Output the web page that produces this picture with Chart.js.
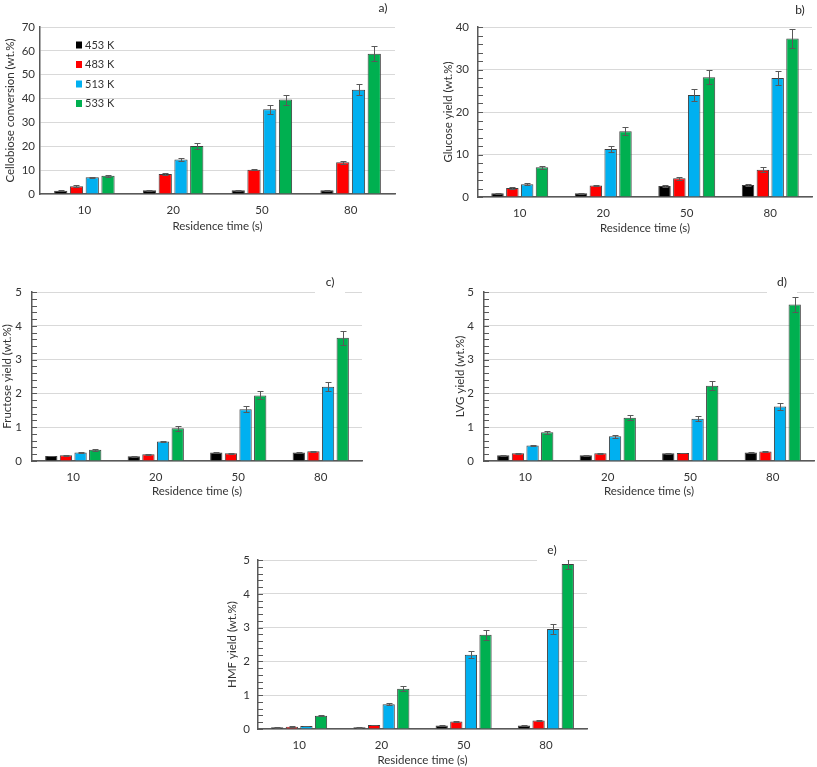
<!DOCTYPE html>
<html>
<head>
<meta charset="utf-8">
<script src="https://cdn.jsdelivr.net/npm/chart.js@4.4.1/dist/chart.umd.min.js"></script>
<style>
  body { margin: 0; background: #fff; width: 817px; height: 767px; position: relative; overflow: hidden; }
  .panel { position: absolute; }
</style>
</head>
<body>
<div class="panel" style="left:0px;top:0px;width:400px;height:235px"><canvas id="ca"></canvas></div>
<div class="panel" style="left:405px;top:0px;width:412px;height:240px"><canvas id="cb"></canvas></div>
<div class="panel" style="left:0px;top:265px;width:400px;height:240px"><canvas id="cc"></canvas></div>
<div class="panel" style="left:405px;top:265px;width:412px;height:240px"><canvas id="cd"></canvas></div>
<div class="panel" style="left:200px;top:533px;width:410px;height:234px"><canvas id="ce"></canvas></div>
<script>
// residence times and temperatures
const residence = ['10', '20', '50', '80'];
const temps = ['453 K', '483 K', '513 K', '533 K'];
const colors = ['#000000', '#ff0000', '#00b0f0', '#00b050'];

// one row per temperature (453, 483, 513, 533 K)
const cellobiose = [
  [1.4, 1.6, 1.6, 1.6],
  [3.3, 8.4, 10.2, 13.3],
  [7.0, 14.5, 35.5, 43.7],
  [7.7, 20.1, 39.6, 58.8]
];
const cellobioseErr = [
  [0.2, 0.2, 0.2, 0.2],
  [0.3, 0.3, 0.3, 0.6],
  [0.3, 0.7, 2.0, 2.3],
  [0.4, 1.1, 2.1, 3.2]
];

const glucose = [
  [0.9, 0.9, 2.6, 2.8],
  [2.1, 2.7, 4.4, 6.4],
  [3.0, 11.3, 24.0, 28.0],
  [7.0, 15.5, 28.2, 37.3]
];
const glucoseErr = [
  [0.1, 0.1, 0.2, 0.2],
  [0.2, 0.2, 0.3, 0.6],
  [0.2, 0.8, 1.4, 1.6],
  [0.4, 0.9, 1.7, 2.2]
];

const fructose = [
  [0.15, 0.14, 0.25, 0.25],
  [0.17, 0.20, 0.23, 0.29],
  [0.25, 0.58, 1.53, 2.20],
  [0.33, 0.97, 1.94, 3.65]
];
const fructoseErr = [
  [0.01, 0.01, 0.02, 0.02],
  [0.01, 0.01, 0.02, 0.02],
  [0.02, 0.02, 0.09, 0.13],
  [0.02, 0.07, 0.12, 0.21]
];

const lvg = [
  [0.17, 0.17, 0.23, 0.25],
  [0.23, 0.23, 0.24, 0.28],
  [0.46, 0.73, 1.25, 1.61],
  [0.85, 1.28, 2.23, 4.63]
];
const lvgErr = [
  [0.01, 0.01, 0.01, 0.02],
  [0.01, 0.01, 0.01, 0.01],
  [0.02, 0.04, 0.07, 0.11],
  [0.04, 0.07, 0.13, 0.21]
];

const hmf = [
  [0.05, 0.05, 0.10, 0.10],
  [0.07, 0.12, 0.22, 0.25],
  [0.09, 0.73, 2.20, 2.96],
  [0.39, 1.19, 2.79, 4.88]
];
const hmfErr = [
  [0.01, 0.01, 0.01, 0.01],
  [0.01, 0.01, 0.01, 0.02],
  [0.01, 0.03, 0.11, 0.15],
  [0.02, 0.07, 0.15, 0.15]
];

const FONT = 'Lato, "Open Sans", sans-serif';
const AXIS = '#595959';
const TEXT = '#333333';

// error bars drawn on top of each bar
const errorBars = {
  id: 'errorBars',
  afterDatasetsDraw(chart) {
    const ctx = chart.ctx, y = chart.scales.y, area = chart.chartArea;
    ctx.save();
    ctx.beginPath();
    ctx.rect(area.left, area.top, area.right - area.left, area.bottom - area.top);
    ctx.clip();
    ctx.strokeStyle = '#595959';
    ctx.lineWidth = 1;
    chart.data.datasets.forEach((ds, i) => {
      chart.getDatasetMeta(i).data.forEach((bar, j) => {
        const v = ds.data[j], e = ds.errors[j];
        const x = Math.round(bar.x) + 0.5;
        const top = Math.round(y.getPixelForValue(v + e)) + 0.5;
        const bot = Math.round(y.getPixelForValue(v - e)) + 0.5;
        ctx.beginPath();
        ctx.moveTo(x, top); ctx.lineTo(x, bot);
        ctx.moveTo(x - 3, top); ctx.lineTo(x + 3, top);
        ctx.moveTo(x - 3, bot); ctx.lineTo(x + 3, bot);
        ctx.stroke();
      });
    });
    ctx.restore();
  }
};

// small inward tick marks on the y axis, panel tag and in-plot legend
const decorations = {
  id: 'decorations',
  afterDraw(chart, args, opts) {
    const ctx = chart.ctx, y = chart.scales.y, area = chart.chartArea;
    ctx.save();
    if (opts.innerTicks) {
      ctx.strokeStyle = AXIS;
      ctx.lineWidth = 1;
      y.ticks.forEach(t => {
        const py = Math.round(y.getPixelForValue(t.value)) + 0.5;
        ctx.beginPath();
        ctx.moveTo(area.left, py);
        ctx.lineTo(area.left + 5, py);
        ctx.stroke();
      });
    }
    if (opts.tag) {
      if (opts.tagBox) {
        ctx.fillStyle = '#fff';
        ctx.fillRect(opts.tagX - 15, opts.tagY - 9, 30, area.top - opts.tagY + 11);
      }
      ctx.fillStyle = '#262626';
      ctx.font = '12px ' + FONT;
      ctx.textAlign = 'center';
      ctx.textBaseline = 'middle';
      ctx.fillText(opts.tag, opts.tagX, opts.tagY);
    }
    if (opts.legend) {
      ctx.font = '11px ' + FONT;
      ctx.textAlign = 'left';
      ctx.textBaseline = 'middle';
      chart.data.datasets.forEach((ds, i) => {
        const cy = opts.legendY + i * 19.5;
        ctx.fillStyle = ds.backgroundColor;
        ctx.fillRect(opts.legendX, cy - 3.5, 6, 7);
        ctx.fillStyle = TEXT;
        ctx.fillText(ds.label, opts.legendX + 9, cy);
      });
    }
    ctx.restore();
  }
};

const panels = [
  { canvas: 'ca', values: cellobiose, errors: cellobioseErr, max: 70, major: 10, minor: 10,
    yTitle: 'Cellobiose conversion (wt.%)', tag: 'a)', tagX: 383, tagY: 8, tagBox: false,
    pad: { left: 3, right: 5, top: 27, bottom: 2 }, yWidth: 37, xHeight: 39, tickPad: 5,
    legend: true, legendX: 76, legendY: 45, innerTicks: false },
  { canvas: 'cb', values: glucose, errors: glucoseErr, max: 40, major: 10, minor: 2,
    yTitle: 'Glucose yield (wt.%)', tag: 'b)', tagX: 395, tagY: 10, tagBox: false,
    pad: { left: 36, right: 5, top: 27, bottom: 5 }, yWidth: 37, xHeight: 38, tickPad: 9,
    legend: false, innerTicks: true },
  { canvas: 'cc', values: fructose, errors: fructoseErr, max: 5, major: 1, minor: 0.2,
    yTitle: 'Fructose yield (wt.%)', tag: 'c)', tagX: 330, tagY: 17, tagBox: true,
    pad: { left: 0, right: 38, top: 27, bottom: 7 }, yWidth: 32, xHeight: 37, tickPad: 10,
    legend: false, innerTicks: true },
  { canvas: 'cd', values: lvg, errors: lvgErr, max: 5, major: 1, minor: 0.2,
    yTitle: 'LVG yield (wt.%)', tag: 'd)', tagX: 377, tagY: 17, tagBox: true,
    pad: { left: 48, right: 3, top: 27, bottom: 7 }, yWidth: 31, xHeight: 37, tickPad: 10,
    legend: false, innerTicks: true },
  { canvas: 'ce', values: hmf, errors: hmfErr, max: 5, major: 1, minor: 0.2,
    yTitle: 'HMF yield (wt.%)', tag: 'e)', tagX: 352, tagY: 17, tagBox: true,
    pad: { left: 25, right: 23, top: 27, bottom: 0 }, yWidth: 33, xHeight: 38, tickPad: 8,
    legend: false, innerTicks: true }
];

function isMajor(v, major) {
  const r = v / major;
  return Math.abs(r - Math.round(r)) < 1e-6;
}

panels.forEach(p => {
  const datasets = temps.map((t, i) => ({
    label: t,
    data: p.values[i],
    errors: p.errors[i],
    backgroundColor: colors[i],
    borderColor: '#3f3f3f',
    borderWidth: 1,
    categoryPercentage: 0.71,
    barPercentage: 0.84
  }));

  new Chart(document.getElementById(p.canvas), {
    type: 'bar',
    data: { labels: residence, datasets: datasets },
    plugins: [errorBars, decorations],
    options: {
      responsive: true,
      maintainAspectRatio: false,
      animation: false,
      layout: { padding: p.pad },
      plugins: {
        legend: { display: false },
        tooltip: { enabled: false },
        decorations: {
          innerTicks: p.innerTicks, tag: p.tag, tagX: p.tagX, tagY: p.tagY, tagBox: p.tagBox,
          legend: p.legend, legendX: p.legendX, legendY: p.legendY
        }
      },
      scales: {
        x: {
          grid: { display: false },
          border: { display: true, color: AXIS, width: 1.5 },
          ticks: { color: TEXT, font: { family: FONT, size: 11.5 }, padding: 1 },
          title: { display: true, text: 'Residence time (s)', color: TEXT,
                   font: { family: FONT, size: 11.5 }, padding: 0 },
          afterFit: s => { s.height = p.xHeight; }
        },
        y: {
          min: 0,
          max: p.max,
          grid: {
            drawTicks: false,
            color: ctx => isMajor(ctx.tick.value, p.major) ? '#d9d9d9' : 'rgba(0,0,0,0)',
            lineWidth: 1
          },
          border: { display: true, color: AXIS, width: 1.5 },
          ticks: {
            stepSize: p.minor,
            autoSkip: false,
            color: TEXT,
            font: { family: FONT, size: 11.5 },
            padding: p.tickPad,
            callback: v => isMajor(v, p.major) ? String(Math.round(v)) : ''
          },
          title: { display: true, text: p.yTitle, color: TEXT,
                   font: { family: FONT, size: 11.5 }, padding: 0 },
          afterFit: s => { s.width = p.yWidth; }
        }
      }
    }
  });
});
</script>
</body>
</html>
